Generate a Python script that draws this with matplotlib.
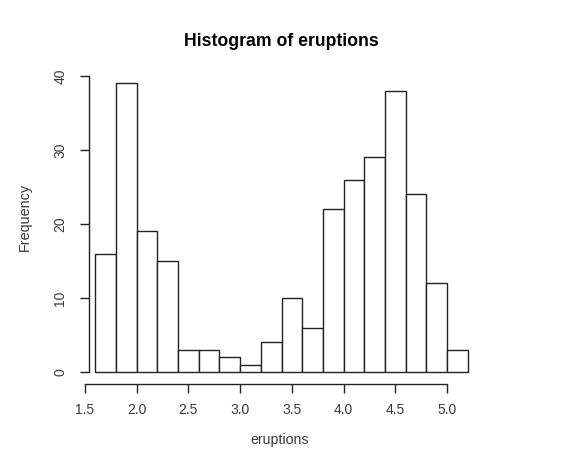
import numpy as np
import matplotlib.pyplot as plt

# faithful eruptions, breaks of 0.2 from 1.6 to 5.2
breaks = [1.6, 1.8, 2.0, 2.2, 2.4, 2.6, 2.8, 3.0, 3.2, 3.4,
          3.6, 3.8, 4.0, 4.2, 4.4, 4.6, 4.8, 5.0, 5.2]
counts = [16, 39, 19, 15, 3, 3, 2, 1, 4, 10, 6, 22, 26, 29, 38, 24, 12, 3]
x_ticks = [1.5, 2.0, 2.5, 3.0, 3.5, 4.0, 4.5, 5.0]
y_ticks = [0, 10, 20, 30, 40]

plt.rcParams['font.family'] = ['Liberation Sans', 'DejaVu Sans']

W, H = 580, 454
fig = plt.figure(figsize=(W / 100, H / 100), dpi=100)

# plot region in pixels
left_px, right_px, top_px, bottom_px = 80, 475, 70, 384
ax = fig.add_axes([left_px / W, 1 - bottom_px / H,
                   (right_px - left_px) / W, (bottom_px - top_px) / H])

# pixel mapping: 1.5 -> 85px, 5.0 -> 447px; 0 -> 372px, 40 -> 76px
xs = (447 - 85) / 3.5
ys = (372 - 76) / 40
ax.set_xlim(1.5 - (85 - left_px) / xs, 1.5 + (right_px - 85) / xs)
ax.set_ylim(-(bottom_px - 372) / ys, (372 - top_px) / ys)

edges = np.array(breaks)
ax.bar(edges[:-1], counts, width=np.diff(edges), align='edge',
       color='white', edgecolor='#222222', linewidth=1.0)

for s in ['top', 'right']:
    ax.spines[s].set_visible(False)
ax.spines['left'].set_position(('data', 1.5 + (89 - 85) / xs))
ax.spines['left'].set_bounds(0, 40)
ax.spines['bottom'].set_bounds(1.5, 5.0)
for s in ['left', 'bottom']:
    ax.spines[s].set_color('#222222')
    ax.spines[s].set_linewidth(1.0)

ax.set_xticks(x_ticks)
ax.set_xticklabels([f'{v:.1f}' for v in x_ticks])
ax.set_yticks(y_ticks)
ax.set_yticklabels([str(v) for v in y_ticks], rotation=90, va='center')
ax.tick_params(axis='both', direction='out', length=6.5, width=1.0,
               color='#222222', labelsize=10, labelcolor='#3a3a3a')
ax.tick_params(axis='x', pad=7)
ax.tick_params(axis='y', pad=9)

fig.text(281 / W, 1 - 42 / H, 'Histogram of eruptions', ha='center', va='center',
         fontsize=12.7, fontweight='bold')
fig.text(280 / W, 1 - 440 / H, 'eruptions', ha='center', va='center',
         fontsize=10.2, color='#3a3a3a')
fig.text(25 / W, 1 - 217 / H, 'Frequency', ha='center', va='center',
         rotation=90, fontsize=10.4, color='#3a3a3a')

fig.savefig('out.png', dpi=100, facecolor='white')
